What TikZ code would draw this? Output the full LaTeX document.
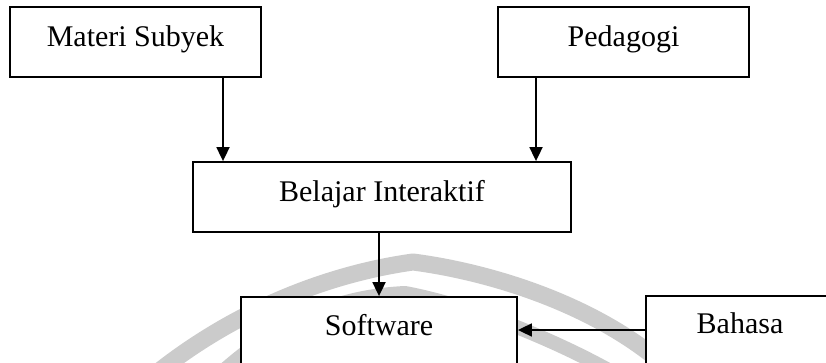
\documentclass[tikz,border=0pt]{standalone}
\usepackage{fontspec}
\setmainfont{Liberation Serif}
\usetikzlibrary{arrows.meta}
\definecolor{wm}{RGB}{203,203,203}
\begin{document}
\begin{tikzpicture}[x=1pt,y=-1pt,
  box/.style={draw=black, line width=1.8pt, fill=white, rectangle, inner sep=0pt,
    text height=20pt, text depth=10pt, font=\fontsize{30}{36}\selectfont},
  arr/.style={draw=black, line width=1.8pt, -{Triangle[width=13pt,length=14pt]}},
  band/.style={draw=wm, line width=17pt, line cap=butt, line join=round}]
\clip (0,0) rectangle (826,363);
\fill[white] (0,0) rectangle (826,363);
% watermark
\draw[band] (158,372) .. controls (230,315) and (320,275) .. (413,262)
            .. controls (490,272) and (600,305) .. (672,372);
\draw[band, line width=14pt] (222,372) .. controls (280,320) and (340,296) .. (405,293)
            .. controls (470,305) and (555,340) .. (612,372);
% boxes
\node[box, minimum width=251pt, minimum height=70pt] (materi) at (135.5,42) {Materi Subyek};
\node[box, minimum width=251pt, minimum height=70pt] (pedagogi) at (623.5,42) {Pedagogi};
\node[box, minimum width=378pt, minimum height=70pt] (belajar) at (382,197) {Belajar Interaktif};
\node[box, text depth=37pt, minimum width=276pt, minimum height=93pt] (software) at (379,343.5) {Software};
\node[box, text depth=40pt, minimum width=188pt, minimum height=94pt] (bahasa) at (740,343) {Bahasa};
% connector positions
\coordinate (xa) at (223,0);
\coordinate (xb) at (536,0);
\coordinate (yc) at (0,330);
\draw[arr] (materi.south -| xa) -- (belajar.north -| xa);
\draw[arr] (pedagogi.south -| xb) -- (belajar.north -| xb);
\draw[arr] (belajar.south -| software.north) -- (software.north);
\draw[arr] (bahasa.west |- yc) -- (software.east |- yc);
\end{tikzpicture}
\end{document}
